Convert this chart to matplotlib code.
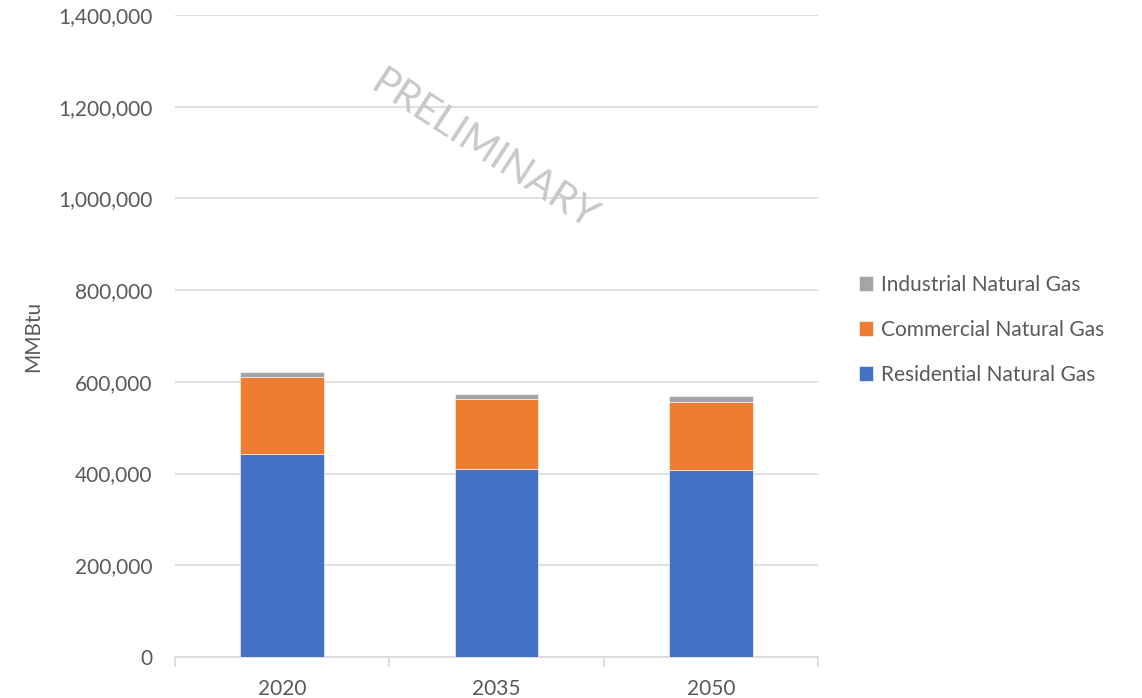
import matplotlib.pyplot as plt
import numpy as np
from matplotlib.ticker import FuncFormatter

# values (MMBtu)
years = ['2020', '2035', '2050']
residential = [442000, 410000, 407000]
commercial = [169000, 152000, 148000]
industrial = [10500, 11500, 14000]

series_names = ['Residential Natural Gas', 'Commercial Natural Gas', 'Industrial Natural Gas']
colors = ['#4472C4', '#ED7D31', '#A5A5A5']

plt.rcParams['font.family'] = ['Lato', 'DejaVu Sans']
text_col = '#595959'
grid_col = '#d9d9d9'
fs = 15

fig = plt.figure(figsize=(11.42, 6.98), dpi=100)
ax = fig.add_axes([175/1142, 1 - 657/698, 643/1142, 642/698])

x = np.arange(len(years))
w = 0.39
bottom = np.zeros(len(years))
bars = []
for vals, name, c in zip([residential, commercial, industrial], series_names, colors):
    b = ax.bar(x, vals, w, bottom=bottom, color=c, label=name, edgecolor='white', linewidth=0.4, zorder=3)
    bars.append(b)
    bottom = bottom + np.array(vals)

ax.set_xlim(-0.5, len(years) - 0.5)
ax.set_ylim(0, 1400000)
ax.set_yticks(np.arange(0, 1400001, 200000))
ax.yaxis.set_major_formatter(FuncFormatter(lambda v, p: f'{int(v):,}'))
ax.grid(axis='y', color=grid_col, linewidth=1.2, zorder=0)
ax.set_axisbelow(True)

for s in ['top', 'right', 'left']:
    ax.spines[s].set_visible(False)
ax.spines['bottom'].set_color(grid_col)
ax.spines['bottom'].set_linewidth(1.2)

ax.tick_params(axis='y', length=0, pad=16, labelsize=fs, labelcolor=text_col)
ax.set_xticks(x)
ax.set_xticklabels(years)
ax.tick_params(axis='x', length=0, pad=16, labelsize=fs, labelcolor=text_col)
# tick marks at category boundaries
ax.set_xticks(np.arange(-0.5, len(years), 1), minor=True)
ax.tick_params(axis='x', which='minor', length=7, color=grid_col, width=1.2)

ax.set_ylabel('MMBtu', fontsize=fs, color=text_col, labelpad=11)

handles = [bars[2], bars[1], bars[0]]
leg = fig.legend(handles, [series_names[2], series_names[1], series_names[0]],
                 loc='upper left', bbox_to_anchor=(840/1142, 1 - 256/698), frameon=False,
                 fontsize=fs, handlelength=0.7, handleheight=0.7, handletextpad=0.35,
                 labelspacing=1.2, labelcolor=text_col)

fig.text(484/1142, 1 - 150/698, 'PRELIMINARY', rotation=-33, fontsize=29,
         color='#c8c8c8', ha='center', va='center')

fig.savefig('out.png', dpi=100)
